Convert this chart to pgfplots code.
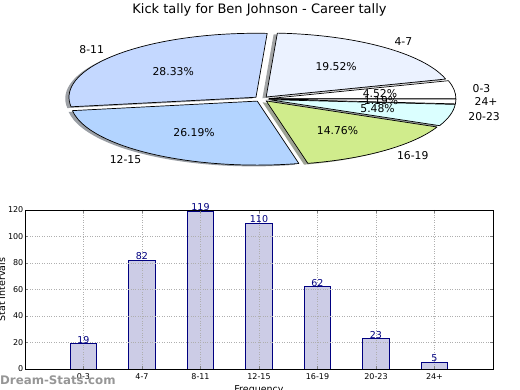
\documentclass[border=0pt]{standalone}
\usepackage{fontspec}
\setmainfont{DejaVu Sans}
\usepackage{pgfplots}
\usepackage{pgfplotstable}
\pgfplotsset{compat=1.18}

\definecolor{s0}{HTML}{FFFFFF}
\definecolor{s1}{HTML}{EBF2FF}
\definecolor{s2}{HTML}{C4D8FF}
\definecolor{s3}{HTML}{B3D4FF}
\definecolor{s4}{HTML}{D0EC8C}
\definecolor{s5}{HTML}{DBFFFF}
\definecolor{s6}{HTML}{FFFFFF}
\definecolor{barfill}{HTML}{CCCCE6}
\definecolor{navyc}{HTML}{000080}
\definecolor{wmark}{RGB}{150,150,150}
\definecolor{gridc}{RGB}{175,175,175}

\pgfplotstableread{
label value
0-3 19
4-7 82
8-11 119
12-15 110
16-19 62
20-23 23
24+ 5
}\tally

\tikzset{
  pielabel/.style={font=\fontsize{10.8}{13}\selectfont, inner sep=0pt},
  pctlabel/.style={font=\fontsize{10.8}{13}\selectfont, inner sep=0pt, anchor=center},
}

\begin{document}
\begin{tikzpicture}
\useasboundingbox (0,0) rectangle (520pt,390pt);
\node[font=\fontsize{13}{15}\selectfont] at (259.5pt,380pt) {Kick tally for Ben Johnson - Career tally};

% ---------------- pie ----------------
\begin{axis}[at={(261.5pt,291pt)}, anchor=center, hide axis, scale only axis,
  x=187pt, y=64pt, xmin=-1.4, xmax=1.4, ymin=-1.4, ymax=1.4, clip=false]
\pgfmathsetmacro\total{0}
\pgfplotsforeachungrouped \i in {0,...,6}{%
  \pgfplotstablegetelem{\i}{value}\of\tally
  \pgfmathsetmacro\total{\total+\pgfplotsretval}}
% shadows
\def\angA{0}
\pgfplotsforeachungrouped \i in {0,...,6}{%
  \pgfplotstablegetelem{\i}{value}\of\tally
  \pgfmathsetmacro\angB{\angA+360*(\pgfplotsretval/\total)}
  \pgfmathsetmacro\angM{(\angA+\angB)/2}
  \pgfmathsetmacro\ox{0.04*cos(\angM)-0.02}
  \pgfmathsetmacro\oy{0.04*sin(\angM)-0.02}
  \pgfmathsetmacro\sx{\ox+cos(\angA)}
  \pgfmathsetmacro\sy{\oy+sin(\angA)}
  \edef\cmd{\noexpand\fill[s\i!30!black, opacity=0.5] (axis cs:\ox,\oy) -- (axis cs:\sx,\sy) arc[start angle=\angA, end angle=\angB, x radius=187pt, y radius=64pt] -- cycle;}%
  \cmd
  \let\angA\angB
}
% wedges and labels
\def\angA{0}
\pgfplotsforeachungrouped \i in {0,...,6}{%
  \pgfplotstablegetelem{\i}{value}\of\tally
  \let\val\pgfplotsretval
  \pgfplotstablegetelem{\i}{label}\of\tally
  \let\lab\pgfplotsretval
  \pgfmathsetmacro\angB{\angA+360*(\val/\total)}
  \pgfmathsetmacro\angM{(\angA+\angB)/2}
  \pgfmathsetmacro\ox{0.04*cos(\angM)}
  \pgfmathsetmacro\oy{0.04*sin(\angM)}
  \pgfmathsetmacro\sx{\ox+cos(\angA)}
  \pgfmathsetmacro\sy{\oy+sin(\angA)}
  \pgfmathsetmacro\lx{\ox+1.1*cos(\angM)}
  \pgfmathsetmacro\ly{\oy+1.1*sin(\angM)}
  \pgfmathsetmacro\px{\ox+0.6*cos(\angM)}
  \pgfmathsetmacro\py{\oy+0.6*sin(\angM)}
  \edef\pct{\fpeval{round(100*\val/\total,2)}}
  \ifdim\lx pt>0pt \def\anc{west}\else\def\anc{east}\fi
  \edef\cmd{\noexpand\filldraw[fill=s\i, draw=black, line width=0.7pt, line join=round] (axis cs:\ox,\oy) -- (axis cs:\sx,\sy) arc[start angle=\angA, end angle=\angB, x radius=187pt, y radius=64pt] -- cycle;
    \noexpand\node[pielabel, anchor=\anc] at (axis cs:\lx,\ly) {\lab};
    \noexpand\node[pctlabel] at (axis cs:\px,\py) {\noexpand\pgfmathprintnumber[fixed,zerofill,precision=2,assume math mode=true]{\pct}\noexpand\%};}%
  \cmd
  \let\angA\angB
}
\end{axis}

% ---------------- bars ----------------
\begin{axis}[at={(25pt,21pt)}, anchor=south west, scale only axis,
  width=468pt, height=159pt,
  xmin=0, xmax=8, ymin=0, ymax=120,
  xtick={1,...,7}, xticklabels={0-3,4-7,8-11,12-15,16-19,20-23,24+},
  ytick={0,20,...,120},
  grid=major, grid style={dotted, gridc, line width=0.7pt},
  tick align=inside, major tick length=3pt, tick style={gray, line width=0.5pt},
  axis line style={black, line width=0.8pt},
  axis on top, clip=false,
  /pgf/number format/assume math mode=true,
  ticklabel style={font=\fontsize{8}{9}\selectfont, inner sep=1.5pt},
  xticklabel style={yshift=-2.5pt},
  xlabel={Frequency},
  xlabel style={at={(axis description cs:0.5,-0.1)}, anchor=north, inner sep=0pt, font=\fontsize{9.5}{11}\selectfont},
  ylabel={Stat Intervals},
  ylabel style={at={(axis description cs:-0.050,0.5)}, anchor=center, inner sep=0pt, font=\fontsize{9.5}{11}\selectfont},
]
\addplot[ybar, bar width=0.45, fill=barfill, draw=navyc, line width=0.7pt,
  nodes near coords,
  nodes near coords style={font=\fontsize{9.5}{11}\selectfont, text=navyc, inner sep=0pt, anchor=south}]
  table[x expr=\coordindex+1, y=value]{\tally};
\end{axis}

\node[anchor=west, inner sep=0pt, text=wmark, font=\bfseries\fontsize{11.8}{13}\selectfont] at (0pt,9.5pt) {Dream-Stats.com};
\end{tikzpicture}
\end{document}
